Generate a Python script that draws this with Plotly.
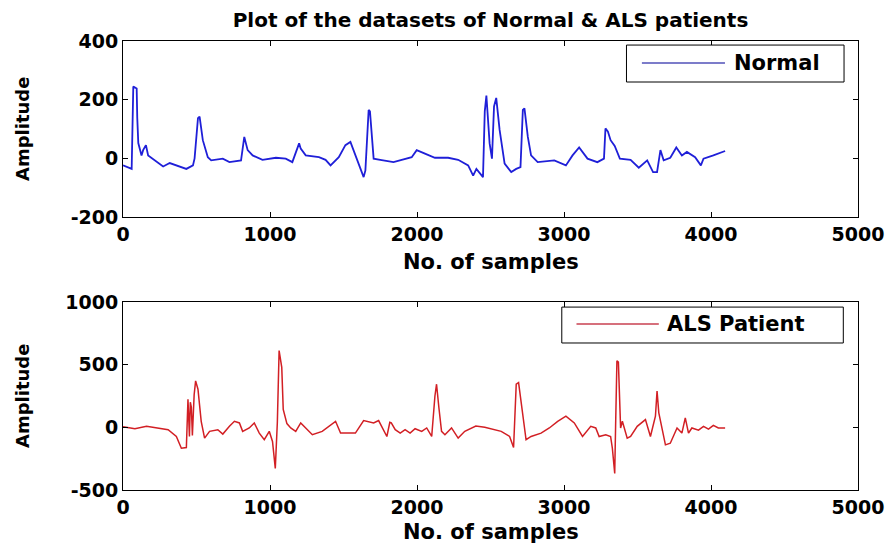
import plotly.graph_objects as go
from plotly.subplots import make_subplots

# ---- data ----
normal_x = [0, 59, 70, 93, 97, 104, 126, 137, 156, 171, 273, 318, 431, 476, 487, 510, 521, 543, 577, 600,
            679, 724, 803, 825, 848, 882, 949, 1040, 1107, 1152, 1198, 1209, 1243, 1333, 1378, 1412, 1468,
            1513, 1547, 1581, 1615, 1637, 1649, 1671, 1680, 1705, 1750, 1840, 1964, 1998, 2054, 2122, 2212,
            2280, 2348, 2382, 2404, 2449, 2461, 2472, 2494, 2510, 2524, 2539, 2562, 2596, 2641, 2675, 2704,
            2720, 2731, 2754, 2776, 2821, 2934, 3013, 3058, 3103, 3160, 3227, 3272, 3282, 3299, 3317, 3345,
            3380, 3453, 3509, 3566, 3606, 3633, 3656, 3678, 3723, 3764, 3802, 3836, 3892, 3931, 3949, 4016, 4096]
normal_y = [-24, -36, 245, 238, 138, 52, 10, 28, 45, 10, -28, -16, -36, -24, 0, 137, 142, 62, 4, -7,
            -1, -13, -7, 73, 28, 10, -5, 2, -1, -13, 51, 33, 10, 4, -5, -24, 4,
            45, 56, 10, -30, -64, -41, 165, 160, -1, -5, -13, 4, 28, 16, 2, 2,
            -5, -24, -59, -36, -64, 160, 214, 51, -1, 177, 206, 97, -18, -47, -36, -30,
            165, 170, 73, 10, -13, -7, -24, 10, 37, -1, -13, -1, 102, 91, 62, 42,
            -1, -5, -32, -7, -47, -47, 28, -7, 2, 37, 10, 22, 4, -24, -1, 10, 25]

als_x = [0, 25, 81, 160, 250, 307, 363, 397, 431, 442, 452, 458, 465, 472, 484, 494, 510, 532, 555, 589,
         645, 679, 724, 758, 792, 814, 859, 893, 927, 961, 995, 1017, 1036, 1050, 1062, 1080, 1090, 1105,
         1115, 1141, 1175, 1209, 1288, 1355, 1446, 1480, 1581, 1637, 1705, 1739, 1795, 1815, 1825, 1852,
         1886, 1919, 1953, 1987, 2032, 2066, 2100, 2122, 2133, 2149, 2167, 2190, 2235, 2280, 2325, 2400,
         2461, 2573, 2630, 2657, 2675, 2691, 2720, 2742, 2776, 2844, 2900, 2957, 3013, 3070, 3126, 3182,
         3216, 3239, 3284, 3317, 3329, 3345, 3351, 3360, 3370, 3377, 3385, 3397, 3408, 3430, 3453, 3498,
         3554, 3588, 3622, 3633, 3645, 3678, 3690, 3723, 3769, 3802, 3825, 3847, 3870, 3915, 3949, 3983,
         4016, 4050, 4096]
als_y = [5, 0, -11, 8, -11, -19, -73, -167, -161, 223, -73, 200, 160, -64, 260, 371, 304, 48, -86, -32,
         -19, -54, 8, 48, 35, -32, -5, 35, -46, -99, -32, -113, -328, 40, 613, 478, 143, 75,
         30, -5, -32, 35, -59, -32, 48, -46, -46, 54, 35, 54, -73, 40, 35, -19,
         -46, -19, -46, -11, -32, -5, -73, 250, 344, 156, -32, -59, -5, -86, -32, 10,
         0, -32, -73, -161, 344, 357, 75, -99, -73, -46, -5, 48, 89, 35, -73, 8,
         -5, -73, -59, -73, -167, -368, 8, 532, 520, 156, -5, 48, -5, -86, -73, 8,
         62, -73, 89, 290, 116, -73, -140, -127, -5, -46, 75, -46, -5, -22, 8, -14,
         16, -5, -5]

x_ticks = [0, 1000, 2000, 3000, 4000, 5000]
top_ticks = [-200, 0, 200, 400]
top_tick_text = ["-200", "0", "200", "400"]
bottom_ticks = [-500, 0, 500, 1000]
bottom_tick_text = ["-500", "0", "500", "1000"]

title_text = "Plot of the datasets of Normal & ALS patients"
x_title = "No. of samples"
y_title = "Amplitude"
normal_name = "Normal"
als_name = "ALS Patient"

BLUE = "#1f1fd8"
RED = "#d21f24"
FONT = "DejaVu Sans"

# page has an 8px body margin, so the figure is sized/offset accordingly
W, H = 888, 540

fig = make_subplots(rows=2, cols=1, vertical_spacing=0.19)

fig.add_trace(go.Scatter(x=normal_x, y=normal_y, mode="lines", name=normal_name,
                         line=dict(color=BLUE, width=1.8), showlegend=False), row=1, col=1)
fig.add_trace(go.Scatter(x=als_x, y=als_y, mode="lines", name=als_name,
                         line=dict(color=RED, width=1.5), showlegend=False), row=2, col=1)

axis_common = dict(showline=True, linecolor="black", linewidth=1, mirror="ticks",
                   ticks="inside", ticklen=5, tickcolor="black", showgrid=False, zeroline=False,
                   tickfont=dict(family=FONT, size=19, color="black", weight="bold"))

fig.update_xaxes(range=[0, 5000], tickvals=x_ticks, **axis_common)
fig.update_yaxes(range=[-200, 400], tickvals=top_ticks, ticktext=top_tick_text,
                 row=1, col=1, **axis_common)
fig.update_yaxes(range=[-500, 1000], tickvals=bottom_ticks, ticktext=bottom_tick_text,
                 row=2, col=1, **axis_common)

fig.update_layout(
    width=W, height=H,
    margin=dict(l=115, r=34, t=33, b=58),
    paper_bgcolor="white", plot_bgcolor="white",
    title=dict(text=title_text, x=0.5, xref="paper", xanchor="center",
               y=1 - 12 / H, yref="container", yanchor="middle",
               font=dict(family=FONT, size=20, color="black", weight="bold")),
    showlegend=False,
)
fig.update_layout(yaxis=dict(domain=[0.608, 1.0]), yaxis2=dict(domain=[0.0, 0.4187]))

lab_font = dict(family=FONT, size=21, color="black", weight="bold")
ylab_font = dict(family=FONT, size=18, color="black", weight="bold")
for xr, yr, ysh in (("x domain", "y domain", -45), ("x2 domain", "y2 domain", -42)):
    fig.add_annotation(text=x_title, xref=xr, yref=yr, x=0.5, y=0, yshift=ysh,
                       xanchor="center", yanchor="middle", showarrow=False, font=lab_font)
    fig.add_annotation(text=y_title, xref=xr, yref=yr, x=0, y=0.5, xshift=-101,
                       xanchor="center", yanchor="middle", textangle=-90, showarrow=False,
                       font=ylab_font)

# legends drawn as boxes
legends = [
    ("x domain", "y domain", 0.685, 0.981, 0.767, 0.977, 0.706, 0.819, 0.875, 0.828, normal_name, "#5050b8"),
    ("x2 domain", "y2 domain", 0.597, 0.980, 0.782, 0.973, 0.617, 0.729, 0.883, 0.737, als_name, "#c84050"),
]
for xr, yr, x0, x1, y0, y1, lx0, lx1, ly, tx, txt, col in legends:
    fig.add_shape(type="rect", xref=xr, yref=yr, x0=x0, x1=x1, y0=y0, y1=y1,
                  line=dict(color="black", width=1), fillcolor="white", layer="above")
    fig.add_shape(type="line", xref=xr, yref=yr, x0=lx0, x1=lx1, y0=ly, y1=ly,
                  line=dict(color=col, width=1.3), layer="above")
    fig.add_annotation(text=txt, xref=xr, yref=yr, x=tx, y=ly, xanchor="left", yanchor="middle",
                       showarrow=False, font=dict(family=FONT, size=21, color="black", weight="bold"))

fig.write_html("out.html")
